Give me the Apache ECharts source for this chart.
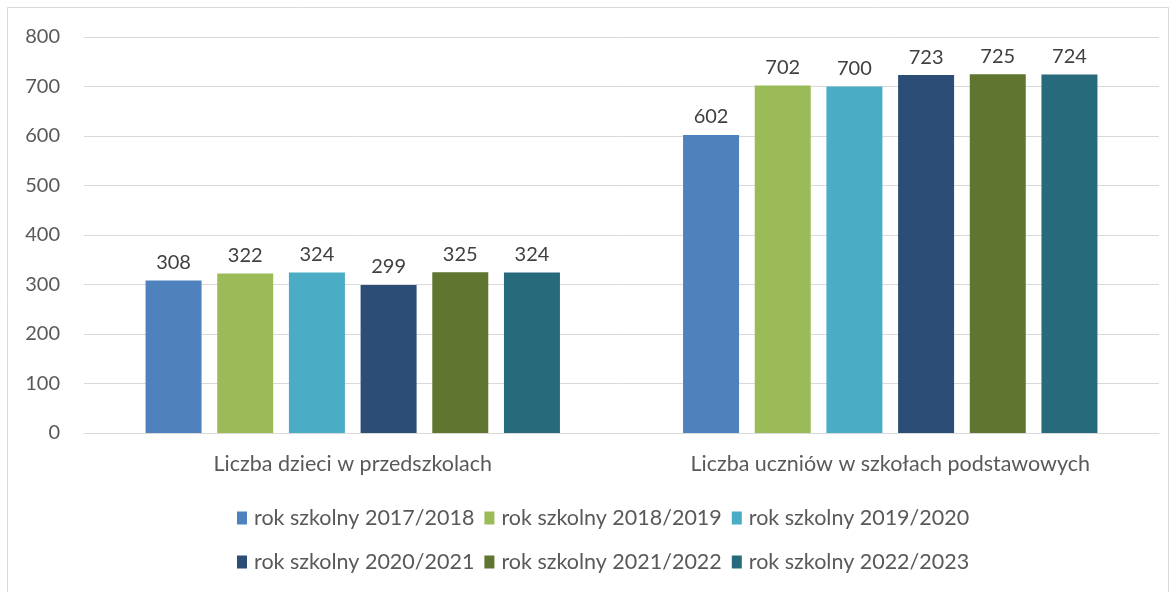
<!DOCTYPE html>
<html>
<head>
<meta charset="utf-8">
<script src="https://cdn.jsdelivr.net/npm/echarts@6/dist/echarts.min.js"></script>
<style>
  html, body { margin: 0; padding: 0; background: #fff; }
  #chart { width: 1176px; height: 592px; }
</style>
</head>
<body>
<div id="chart"></div>
<script>
// dane
const categories = ['Liczba dzieci w przedszkolach', 'Liczba uczniów w szkołach podstawowych']
const seriesNames = [
  'rok szkolny 2017/2018', 'rok szkolny 2018/2019', 'rok szkolny 2019/2020',
  'rok szkolny 2020/2021', 'rok szkolny 2021/2022', 'rok szkolny 2022/2023'
]
const values2017 = [308, 602]
const values2018 = [322, 702]
const values2019 = [324, 700]
const values2020 = [299, 723]
const values2021 = [325, 725]
const values2022 = [324, 724]
const colors = ['#4f81bd', '#9bbb59', '#4bacc6', '#2c4d75', '#5f7530', '#276a7c']

const allValues = [values2017, values2018, values2019, values2020, values2021, values2022]
const font = 'Lato, "Open Sans", sans-serif'

const chart = echarts.init(document.getElementById('chart'))

const series = seriesNames.map((name, i) => ({
  name: name,
  type: 'bar',
  data: allValues[i],
  barWidth: 56,
  barGap: '28%',
  itemStyle: { color: colors[i] },
  label: {
    show: true,
    position: 'top',
    distance: 8,
    color: '#404040',
    fontFamily: font,
    fontSize: 20
  }
}))

const legendStyle = {
  left: 232,
  itemWidth: 10,
  itemHeight: 13,
  itemGap: 10,
  icon: 'rect',
  textStyle: { color: '#595959', fontFamily: font, fontSize: 21.5, padding: [0, 0, 0, 2] }
}

chart.setOption({
  animation: false,
  graphic: [{
    type: 'rect',
    shape: { x: 7.5, y: 7.5, width: 1161, height: 600 },
    style: { fill: 'none', stroke: '#d9d9d9', lineWidth: 1 }
  }],
  grid: { left: 84, right: 17, top: 37, bottom: 159 },
  legend: [
    Object.assign({ data: seriesNames.slice(0, 3), top: 502 }, legendStyle),
    Object.assign({ data: seriesNames.slice(3), top: 546 }, legendStyle)
  ],
  xAxis: {
    type: 'category',
    data: categories,
    axisLine: { lineStyle: { color: '#d9d9d9' } },
    axisTick: { show: false },
    axisLabel: { color: '#595959', fontFamily: font, fontSize: 21.5, margin: 20 }
  },
  yAxis: {
    type: 'value',
    min: 0,
    max: 800,
    interval: 100,
    axisLine: { show: false },
    axisTick: { show: false },
    splitLine: { lineStyle: { color: '#d9d9d9' } },
    axisLabel: { color: '#595959', fontFamily: font, fontSize: 20, margin: 24 }
  },
  series: series
})
</script>
</body>
</html>
